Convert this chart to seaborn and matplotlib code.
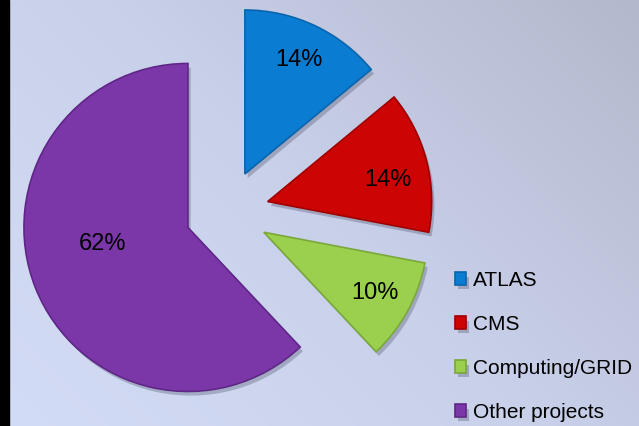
#!/usr/bin/env python3
# -*- coding: utf-8 -*-

import numpy as np
import matplotlib
matplotlib.use('Agg')
import matplotlib.pyplot as plt
import matplotlib.patheffects as pe
from matplotlib.colors import LinearSegmentedColormap
from matplotlib.patches import Rectangle
import seaborn as sns

sns.set_theme(style='white')
plt.rcParams['font.family'] = ['Liberation Sans', 'DejaVu Sans']
plt.rcParams['text.color'] = 'black'

projects = ['ATLAS', 'CMS', 'Computing/GRID', 'Other projects']
shares = [14, 14, 10, 62]
colors = ['#0a7cd2', '#cc0404', '#9bd04e', '#7b37a8']
edge_colors = ['#0865ad', '#9e0000', '#7aa83a', '#5e2786']

W, H = 639, 426
fig = plt.figure(figsize=(W / 100, H / 100), dpi=100)

# background: diagonal gradient, black strip on the left
bg = fig.add_axes([0, 0, 1, 1])
yy, xx = np.mgrid[0:1:200j, 0:1:300j]
grad = 0.6 * xx + 0.4 * (1 - yy)
bg_cmap = LinearSegmentedColormap.from_list('bg', ['#d3dcf6', '#c9d0ea', '#b3b9cc'])
bg.imshow(grad, cmap=bg_cmap, aspect='auto', extent=(0, 1, 0, 1), origin='upper')
bg.axis('off')
fig.patches.append(Rectangle((0, 0), 9 / W, 1, transform=fig.transFigure,
                             color='black', zorder=0))

ax = fig.add_axes([0, 0, 1, 1])
ax.patch.set_alpha(0)
wedges, texts, autotexts = ax.pie(
    shares, colors=colors, startangle=90, counterclock=False,
    radius=164, center=(227, H - 212), explode=[42] * 4,
    autopct='%.0f%%', pctdistance=0.77,
    textprops=dict(fontsize=17, color='black'),
    wedgeprops=dict(linewidth=1.2))

for w, ec in zip(wedges, edge_colors):
    w.set_edgecolor(ec)
    w.set_path_effects([pe.SimplePatchShadow(offset=(2, -3), alpha=0.3,
                                             shadow_rgbFace='#40445a'),
                        pe.Normal()])

# hand-placed labels (CMS and the big slice), angle/distance from slice tip
for i, deg, dist in [(1, 10, 122), (3, 191, 87)]:
    cx, cy = wedges[i].center
    ang = np.deg2rad(deg)
    autotexts[i].set_position((cx + dist * np.cos(ang), cy + dist * np.sin(ang)))

ax.set_xlim(0, W)
ax.set_ylim(0, H)
ax.axis('off')

leg = ax.legend(wedges, projects, loc='upper left',
                bbox_to_anchor=(455 / W, 1 - 271 / H), bbox_transform=fig.transFigure,
                frameon=False, fontsize=15, handlelength=0.55, handleheight=0.55,
                handletextpad=0.3, labelspacing=1.2, borderpad=0, borderaxespad=0)
for t in leg.get_texts():
    t.set_color('black')

fig.savefig('out.png', dpi=100)
